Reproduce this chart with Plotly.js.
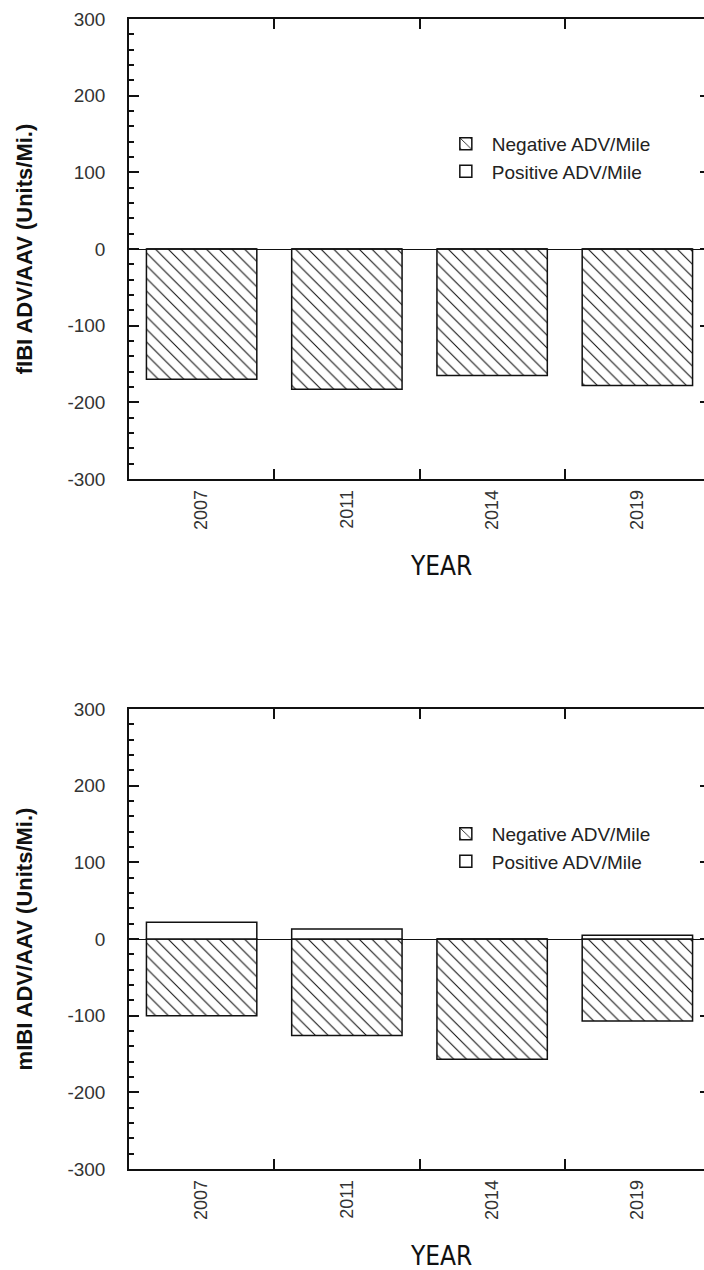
<!DOCTYPE html>
<html>
<head>
<meta charset="utf-8">
<script src="https://cdn.plot.ly/plotly-3.0.1.min.js"></script>
<style>
  html, body { margin: 0; padding: 0; background: #fff; overflow: hidden; }
  #chart { width: 720px; height: 1270px; }
</style>
</head>
<body>
<div id="chart"></div>
<script>
// ---- data ----
const years = ['2007', '2011', '2014', '2019'];
const fibiNegative = [-170, -183, -165, -178];
const fibiPositive = [0, 0, 0, 0];
const mibiNegative = [-100, -126, -157, -107];
const mibiPositive = [22, 13, 0, 5];
const yTickVals = [-300, -200, -100, 0, 100, 200, 300];
const yTickText = ['-300', '-200', '-100', '0', '100', '200', '300'];
const negName = 'Negative ADV/Mile';
const posName = 'Positive ADV/Mile';
const yTitleTop = 'fIBI ADV/AAV (Units/Mi.)';
const yTitleBottom = 'mIBI ADV/AAV (Units/Mi.)';
const xTitle = 'YEAR';

const FONT = 'Arial, "Liberation Sans", sans-serif';
const hatch = { shape: '\\', size: 9, solidity: 0.12, fgcolor: '#111', bgcolor: '#fff', fillmode: 'replace' };
const outline = { color: '#111', width: 1.5 };

function negTrace(y, xa, ya, leg) {
  return { type: 'bar', x: years, y: y, name: negName, xaxis: xa, yaxis: ya, legend: leg,
    marker: { color: '#fff', pattern: hatch, line: outline }, hoverinfo: 'x+y' };
}
function posTrace(y, xa, ya, leg) {
  return { type: 'bar', x: years, y: y, name: posName, xaxis: xa, yaxis: ya, legend: leg,
    marker: { color: '#fff', line: outline }, hoverinfo: 'x+y' };
}

const data = [
  negTrace(fibiNegative, 'x', 'y', 'legend'),
  posTrace(fibiPositive, 'x', 'y', 'legend'),
  negTrace(mibiNegative, 'x2', 'y2', 'legend2'),
  posTrace(mibiPositive, 'x2', 'y2', 'legend2')
];

function xAxis(anchor) {
  return {
    anchor: anchor, domain: [0, 1], type: 'category',
    showline: true, linecolor: '#111', linewidth: 1.5, mirror: 'ticks',
    ticks: 'inside', ticklen: 10, tickwidth: 1.5, tickcolor: '#111', tickson: 'boundaries',
    tickangle: -90, tickfont: { family: FONT, size: 18, color: '#333' },
    showgrid: false, zeroline: false, ticklabelstandoff: 2
  };
}
function yAxis(anchor, domain, title) {
  return {
    anchor: anchor, domain: domain, range: [-300, 300],
    tickmode: 'array', tickvals: yTickVals, ticktext: yTickText,
    showline: true, linecolor: '#111', linewidth: 1.5, mirror: 'ticks',
    ticks: 'inside', ticklen: 10, tickwidth: 1.5, tickcolor: '#111',
    minor: { tickmode: 'linear', tick0: 0, dtick: 20, ticks: 'inside', ticklen: 5, tickwidth: 1.5, tickcolor: '#111', showgrid: false },
    tickfont: { family: FONT, size: 19, color: '#333' }, ticklabelstandoff: 18,
    showgrid: false, zeroline: true, zerolinecolor: '#111', zerolinewidth: 1.2,
    title: { text: title, font: { family: FONT, size: 22, color: '#111', weight: 'bold' }, standoff: 29 }
  };
}

const legendBase = {
  xref: 'paper', yref: 'paper', xanchor: 'left', yanchor: 'top',
  bgcolor: 'rgba(0,0,0,0)', borderwidth: 0, traceorder: 'normal',
  font: { family: FONT, size: 19, color: '#222' }, itemwidth: 42
};

const layout = {
  width: 720, height: 1270,
  margin: { l: 129, r: 10, t: 19, b: 101 },
  paper_bgcolor: '#fff', plot_bgcolor: '#fff',
  barmode: 'relative', bargap: 0.24,
  showlegend: true,
  xaxis: xAxis('y'),
  yaxis: yAxis('x', [0.6, 1], yTitleTop),
  xaxis2: xAxis('y2'),
  yaxis2: yAxis('x2', [0, 0.4], yTitleBottom),
  legend: Object.assign({}, legendBase, { x: 0.535, y: 0.908 }),
  legend2: Object.assign({}, legendBase, { x: 0.535, y: 0.308 }),
  annotations: [
    { text: xTitle, xref: 'paper', yref: 'paper', x: 0.537, y: 0.6, yshift: -87, showarrow: false,
      xanchor: 'center', yanchor: 'middle',
      font: { family: '"Liberation Sans Narrow", "DejaVu Sans Condensed", Arial, sans-serif', size: 26, color: '#111' } },
    { text: xTitle, xref: 'paper', yref: 'paper', x: 0.537, y: 0, yshift: -87, showarrow: false,
      xanchor: 'center', yanchor: 'middle',
      font: { family: '"Liberation Sans Narrow", "DejaVu Sans Condensed", Arial, sans-serif', size: 26, color: '#111' } }
  ]
};

Plotly.newPlot('chart', data, layout, { displayModeBar: false, responsive: false });
</script>
</body>
</html>
